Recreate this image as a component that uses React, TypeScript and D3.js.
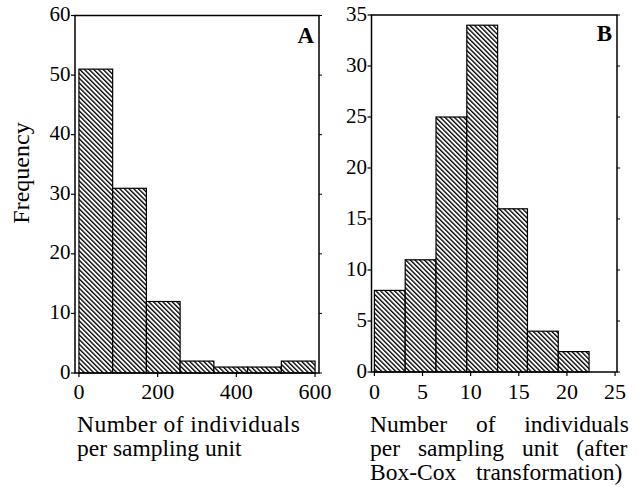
import React from "react";
import * as d3 from "d3";

const aEdges = [0, 85.7, 171.4, 257.1, 342.9, 428.6, 514.3, 600];
const aCounts = [51, 31, 12, 2, 1, 1, 2];
const aXTicks = [0, 200, 400, 600];
const aYTicks = [0, 10, 20, 30, 40, 50, 60];

const bEdges = [0, 3.2, 6.4, 9.6, 12.8, 15.9, 19.1, 22.3];
const bCounts = [8, 11, 25, 34, 16, 4, 2];
const bXTicks = [0, 5, 10, 15, 20, 25];
const bYTicks = [0, 5, 10, 15, 20, 25, 30, 35];

const yLabel = "Frequency";
const aXLabel = ["Number of individuals", "per sampling unit"];
const bXLabel = ["Number of individuals", "per sampling unit (after", "Box-Cox transformation)"];

const FONT = "Liberation Serif";

type PanelProps = {
  edges: number[];
  counts: number[];
  xTicks: number[];
  yTicks: number[];
  xDomain: [number, number];
  yDomain: [number, number];
  x0: number; x1: number; y0: number; y1: number;
  letter: string;
  letterX: number;
  letterY: number;
};

function Panel(p: PanelProps) {
  const x = d3.scaleLinear().domain(p.xDomain).range([p.x0, p.x1]);
  const y = d3.scaleLinear().domain(p.yDomain).range([p.y1, p.y0]);
  return (
    <g>
      {p.counts.map((c, i) => (
        <rect
          key={i}
          x={x(p.edges[i])}
          y={y(c)}
          width={x(p.edges[i + 1]) - x(p.edges[i])}
          height={y(0) - y(c)}
          fill="url(#hatch)"
          stroke="#000"
          strokeWidth={1.2}
        />
      ))}
      <rect x={p.x0} y={p.y0} width={p.x1 - p.x0} height={p.y1 - p.y0} fill="none" stroke="#000" strokeWidth={1.5} />
      {p.yTicks.map((t) => (
        <g key={"y" + t}>
          <line x1={p.x0 - 4} x2={p.x0} y1={y(t)} y2={y(t)} stroke="#000" strokeWidth={1.2} />
          <line x1={p.x1} x2={p.x1 + 3} y1={y(t)} y2={y(t)} stroke="#000" strokeWidth={1} />
          <text x={p.x0 - 4.5} y={y(t) + 5.5} textAnchor="end" fontFamily={FONT} fontSize={21} fill="#000">
            {String(t)}
          </text>
        </g>
      ))}
      {p.xTicks.map((t) => (
        <g key={"x" + t}>
          <line x1={x(t)} x2={x(t)} y1={p.y1} y2={p.y1 + 4} stroke="#000" strokeWidth={1.2} />
          <text x={x(t)} y={399} textAnchor="middle" fontFamily={FONT} fontSize={22} fill="#000">
            {String(t)}
          </text>
        </g>
      ))}
      <text x={p.letterX} y={p.letterY} textAnchor="end" fontFamily={FONT} fontWeight="bold" fontSize={23} fill="#000">
        {p.letter}
      </text>
    </g>
  );
}

export default function App() {
  return (
    <svg width={639} height={488} fontFamily={FONT} style={{ position: "absolute", left: 0, top: 0, background: "#fff" }}>
      <defs>
        <pattern id="hatch" patternUnits="userSpaceOnUse" width={3.3} height={10} patternTransform="rotate(-45)">
          <rect x={0} y={0} width={3.3} height={10} fill="#fff" />
          <rect x={0} y={0} width={1.35} height={10} fill="#000" />
        </pattern>
      </defs>
      <rect x={0} y={0} width={639} height={488} fill="#fff" />
      <Panel
        edges={aEdges}
        counts={aCounts}
        xTicks={aXTicks}
        yTicks={aYTicks}
        xDomain={[-10, 610]}
        yDomain={[0, 60]}
        x0={75} x1={319} y0={15.5} y1={373}
        letter="A" letterX={314} letterY={43}
      />
      <Panel
        edges={bEdges}
        counts={bCounts}
        xTicks={bXTicks}
        yTicks={bYTicks}
        xDomain={[-0.3, 25.2]}
        yDomain={[0, 35]}
        x0={371.5} x1={617} y0={15} y1={372}
        letter="B" letterX={612} letterY={41}
      />
      <text transform="translate(29,173) rotate(-90)" textAnchor="middle" fontFamily={FONT} fontSize={24} fill="#000">
        {yLabel}
      </text>
      <text x={77} y={432} fontFamily={FONT} fontSize={23.5} fill="#000" style={{ letterSpacing: "0.5px" }}>
        {aXLabel[0]}
      </text>
      <text x={77} y={456} fontFamily={FONT} fontSize={23.5} fill="#000">
        {aXLabel[1]}
      </text>
      <text x={370} y={431.5} fontFamily={FONT} fontSize={23.5} fill="#000" style={{ wordSpacing: "23px" }}>
        {bXLabel[0]}
      </text>
      <text x={370} y={455.5} fontFamily={FONT} fontSize={23.5} fill="#000" style={{ wordSpacing: "12px" }}>
        {bXLabel[1]}
      </text>
      <text x={370} y={479.5} fontFamily={FONT} fontSize={23.5} fill="#000" style={{ wordSpacing: "14px" }}>
        {bXLabel[2]}
      </text>
    </svg>
  );
}
